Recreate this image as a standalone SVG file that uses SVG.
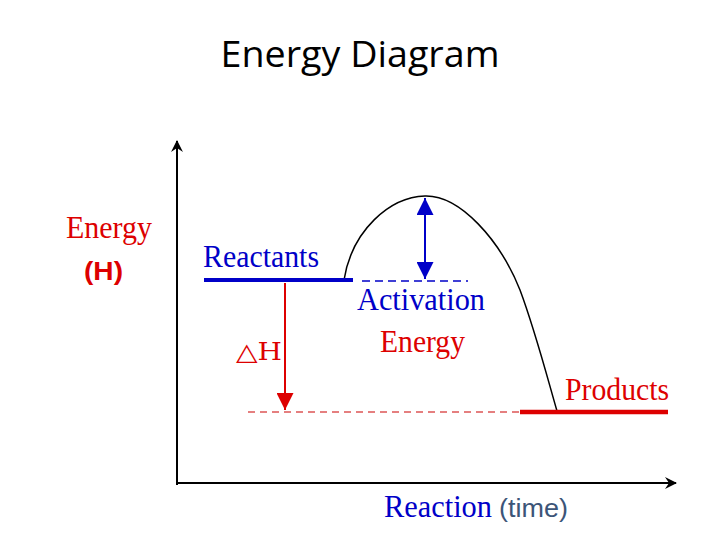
<svg xmlns="http://www.w3.org/2000/svg" width="720" height="540" viewBox="0 0 720 540">
<style>
.serif{font-family:"Liberation Serif","Times New Roman",serif;font-size:31px}
.red{fill:#dd0000}
.blue{fill:#0000c8}
.sans{font-family:"Liberation Sans",Arial,sans-serif}
</style>
<defs>
<marker id="axhead" viewBox="0 0 12 12" refX="11" refY="6" markerWidth="12" markerHeight="12" markerUnits="userSpaceOnUse" orient="auto">
<path d="M0,0 L12,6 L0,12 L4,6 Z" fill="#000"/>
</marker>
<marker id="bluehead" viewBox="0 0 16 16" refX="16" refY="8" markerWidth="17" markerHeight="17" markerUnits="userSpaceOnUse" orient="auto-start-reverse">
<path d="M0,0 L16,8 L0,16 Z" fill="#0000c8"/>
</marker>
<marker id="redhead" viewBox="0 0 16 16" refX="16" refY="8" markerWidth="17" markerHeight="17" markerUnits="userSpaceOnUse" orient="auto">
<path d="M0,0 L16,8 L0,16 Z" fill="#dd0000"/>
</marker>
</defs>
<rect width="720" height="540" fill="#fff"/>
<text x="360" y="67" text-anchor="middle" font-family="'Open Sans','Liberation Sans',sans-serif" font-size="37" textLength="279" lengthAdjust="spacingAndGlyphs" fill="#000">Energy Diagram</text>

<g id="axes">
<line x1="177" y1="485" x2="177" y2="141" stroke="#000" stroke-width="2" marker-end="url(#axhead)"/>
<line x1="176" y1="483" x2="676" y2="483" stroke="#000" stroke-width="2" marker-end="url(#axhead)"/>
</g>

<g id="connectors">
<path d="M344,280 C352,230 390,197 425,196 C460,195 500,240 520,290 C535,330 548,380 557,411" fill="none" stroke="#000" stroke-width="1.5"/>
<line x1="362" y1="281" x2="468" y2="281" stroke="#0000c8" stroke-width="1.5" stroke-dasharray="8,5"/>
<line x1="248" y1="412" x2="520" y2="412" stroke="#cc0000" stroke-width="1.2" stroke-dasharray="7,5"/>
<line x1="425" y1="198" x2="425" y2="279" stroke="#0000c8" stroke-width="2" marker-start="url(#bluehead)" marker-end="url(#bluehead)"/>
<line x1="285" y1="283" x2="285" y2="410" stroke="#dd0000" stroke-width="2" marker-end="url(#redhead)"/>
</g>

<g id="reactants">
<line x1="204" y1="280" x2="353" y2="280" stroke="#0000c8" stroke-width="4"/>
<text x="203" y="267" class="serif blue" textLength="116" lengthAdjust="spacingAndGlyphs">Reactants</text>
</g>

<g id="products">
<line x1="520" y1="412" x2="668" y2="412" stroke="#dd0000" stroke-width="4.5"/>
<text x="565" y="400" class="serif red" textLength="104" lengthAdjust="spacingAndGlyphs">Products</text>
</g>

<g id="activation-energy">
<text x="357" y="310" class="serif blue" textLength="128" lengthAdjust="spacingAndGlyphs">Activation</text>
<text x="380" y="352" class="serif red" textLength="85" lengthAdjust="spacingAndGlyphs">Energy</text>
</g>

<g id="delta-h">
<text x="236" y="360" font-family="'DejaVu Serif','Liberation Serif',serif" font-size="24" class="red" textLength="46" lengthAdjust="spacingAndGlyphs">△H</text>
</g>

<g id="y-label">
<text x="66" y="238" class="serif red" textLength="86" lengthAdjust="spacingAndGlyphs">Energy</text>
<text x="84" y="280" class="sans red" font-size="26" font-weight="bold" textLength="39" lengthAdjust="spacingAndGlyphs">(H)</text>
</g>

<g id="x-label">
<text x="384" y="517" class="serif blue" textLength="108" lengthAdjust="spacingAndGlyphs">Reaction</text>
<text x="499" y="517" class="sans" font-size="26" fill="#3c5578" textLength="69" lengthAdjust="spacingAndGlyphs">(time)</text>
</g>
</svg>
